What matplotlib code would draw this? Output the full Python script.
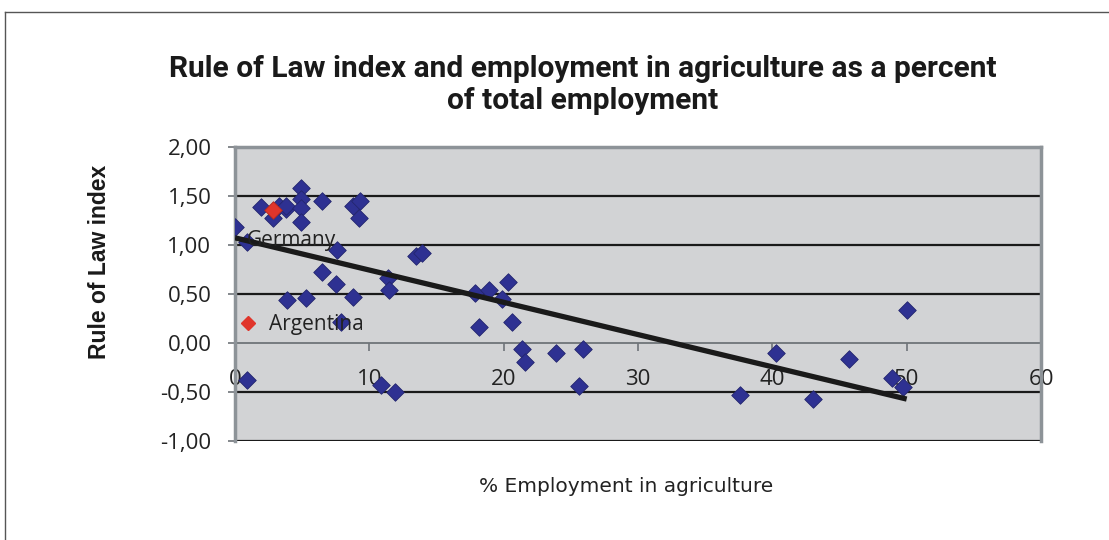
import numpy as np
import matplotlib
matplotlib.use("Agg")
import matplotlib.pyplot as plt
from matplotlib.lines import Line2D
from matplotlib.ticker import FuncFormatter

# % of total employment in agriculture and Rule of Law index, one pair per country
agri_pct = [0.0, 0.9, 1.9, 2.8, 3.3, 3.8, 3.8, 4.9, 4.9, 4.9, 4.9,
            6.5, 8.8, 9.3, 9.2, 7.6, 6.5, 7.5, 3.9, 5.3, 8.8, 7.9,
            11.4, 11.5, 13.5, 13.9, 0.9, 10.9, 11.9,
            17.9, 18.9, 20.3, 19.9, 18.2, 20.6, 21.4, 21.6, 23.9, 25.9, 25.6,
            37.6, 40.3, 43.0, 45.7, 48.9, 49.7, 50.0]
rule_of_law = [1.18, 1.03, 1.38, 1.27, 1.39, 1.36, 1.40, 1.58, 1.47, 1.37, 1.23,
               1.45, 1.40, 1.45, 1.27, 0.95, 0.72, 0.60, 0.44, 0.46, 0.47, 0.21,
               0.66, 0.54, 0.88, 0.92, -0.38, -0.43, -0.50,
               0.51, 0.54, 0.62, 0.45, 0.16, 0.21, -0.06, -0.20, -0.10, -0.06, -0.44,
               -0.53, -0.10, -0.57, -0.17, -0.36, -0.45, 0.33]

# highlighted country
arg_pct = [2.8]
arg_rol = [1.35]

germany_idx = 1

x_ticks = [0, 10, 20, 30, 40, 50, 60]
y_ticks = [-1.0, -0.5, 0.0, 0.5, 1.0, 1.5, 2.0]

BLUE = "#2e3192"
RED = "#e0352b"
PLOT_BG = "#d2d3d5"
BORDER = "#8d9398"

fig = plt.figure(figsize=(11.09, 5.40), dpi=100)
ax = fig.add_axes([235 / 1109, 1 - 440.7 / 540, (1041 - 235) / 1109, (440.7 - 146.7) / 540])
ax.set_facecolor(PLOT_BG)

# outer chart frame (runs off the right and bottom edges)
fig.add_artist(Line2D([5 / 1109, 5 / 1109], [-0.1, 1 - 12 / 540], color="#555555", lw=1.0))
fig.add_artist(Line2D([5 / 1109, 1.1], [1 - 12 / 540, 1 - 12 / 540], color="#555555", lw=1.0))

ax.set_xlim(0, 60)
ax.set_ylim(-1.0, 2.0)

# horizontal gridlines
for yv in y_ticks:
    if yv != 0.0:
        ax.axhline(yv, color="#1a1a1a", lw=1.6, zorder=1)

ax.scatter(agri_pct, rule_of_law, marker="D", s=80, color=BLUE,
           edgecolors="#23256e", linewidths=0.6, zorder=3)
ax.scatter(arg_pct, arg_rol, marker="D", s=80, color=RED,
           edgecolors="#b02820", linewidths=0.6, zorder=4)

# linear trend line over the data range
all_x = np.array(agri_pct + arg_pct)
all_y = np.array(rule_of_law + arg_rol)
slope, intercept = np.polyfit(all_x, all_y, 1)
tx = np.array([all_x.min(), all_x.max()])
ax.plot(tx, slope * tx + intercept, color="#1a1a1a", lw=3.8, zorder=5,
        solid_capstyle="butt")

ax.annotate("Germany", (agri_pct[germany_idx], rule_of_law[germany_idx]),
            xytext=(0, 1), textcoords="offset points", ha="left", va="center",
            fontsize=15, family="Open Sans", color="#222222", zorder=6)

handle = Line2D([], [], marker="D", ls="none", color=RED, markersize=7.5)
ax.legend([handle], ["Argentina"], loc="center left",
          bbox_to_anchor=(3 / 806, (1 - (324.3 - 146.7) / 294)),
          frameon=False, handlelength=1.0, handletextpad=0.5,
          borderpad=0, borderaxespad=0,
          prop={"family": "Open Sans", "size": 15}, labelcolor="#222222")

# axes styling
for side in ["left", "right", "top"]:
    ax.spines[side].set_color(BORDER)
    ax.spines[side].set_linewidth(2.5)
ax.spines["bottom"].set_position(("data", 0))
ax.spines["bottom"].set_color("#6f7479")
ax.spines["bottom"].set_linewidth(1.3)
ax.spines["bottom"].set_zorder(2)

ax.set_xticks(x_ticks)
ax.set_yticks(y_ticks)
ax.yaxis.set_major_formatter(FuncFormatter(lambda v, p: f"{v:.2f}".replace(".", ",")))
ax.tick_params(axis="x", direction="out", length=6, width=1.2, color="#6f7479",
               pad=13, labelsize=16, labelcolor="#222222")
ax.tick_params(axis="y", direction="out", length=5, width=1.2, color="#6f7479",
               pad=12, labelsize=16, labelcolor="#222222")
for lbl in ax.get_xticklabels() + ax.get_yticklabels():
    lbl.set_family("Open Sans")

ax.set_ylabel("Rule of Law index", fontsize=16.5, fontweight="bold",
              family="Liberation Sans", color="#1a1a1a", va="center")
ax.yaxis.set_label_coords(-0.1675, 0.608)
fig.text(626 / 1109, 1 - 487 / 540, "% Employment in agriculture", ha="center", va="center",
         fontsize=14.5, family="DejaVu Sans", color="#222222")

fig.text(583 / 1109, 1 - 85 / 540,
         "Rule of Law index and employment in agriculture as a percent\nof total employment",
         ha="center", va="center", fontsize=21.5, fontweight="bold",
         family="Roboto", color="#1a1a1a", linespacing=1.15)

fig.savefig("out.png", dpi=100)
